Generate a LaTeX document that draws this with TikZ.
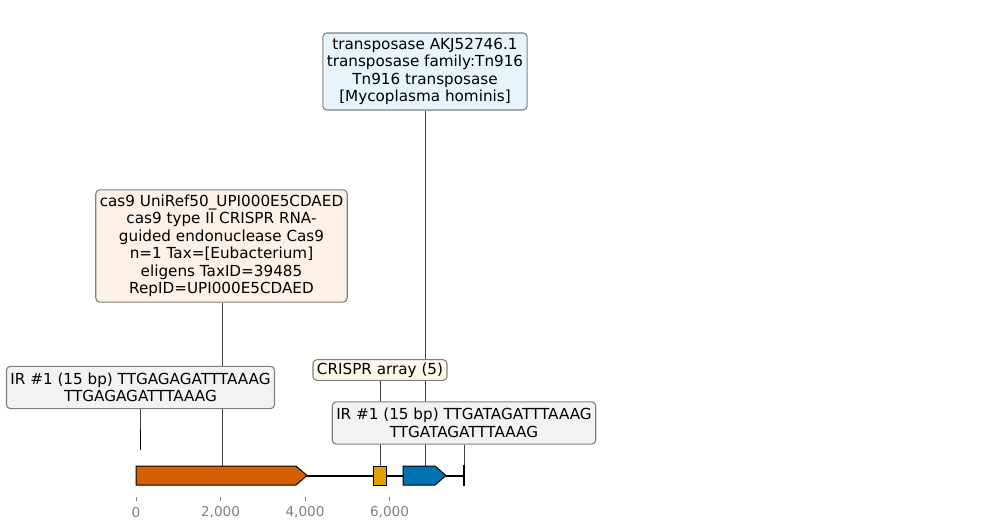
\documentclass[tikz,border=0pt]{standalone}
\usepackage{fontspec}
\setmainfont{DejaVu Sans}
\definecolor{cascol}{HTML}{D55E00}
\definecolor{crcol}{HTML}{E69F00}
\definecolor{trcol}{HTML}{0072B2}
\definecolor{casbox}{HTML}{FDF0E6}
\definecolor{trbox}{HTML}{E8F4FC}
\definecolor{crbox}{HTML}{FDF8E9}
\definecolor{irbox}{HTML}{F2F2F2}
\definecolor{boxedge}{HTML}{808080}
\definecolor{conn}{HTML}{404040}
\definecolor{tickgray}{HTML}{808080}
\pgfdeclarelayer{background}
\pgfsetlayers{background,main}
\tikzset{
  lbl/.style={draw=boxedge, line width=1.1pt, rounded corners=4pt, align=center,
    inner xsep=4pt, inner ysep=5pt, font=\fontsize{15.2}{17.5}\selectfont},
  connline/.style={draw=conn, line width=0.8pt},
  featshape/.style={draw=black, line width=1pt},
  ticklbl/.style={text=tickgray, font=\fontsize{13.6}{15}\selectfont},
  tickmark/.style={draw=tickgray, line width=0.8pt}
}
\begin{document}
\begin{tikzpicture}[x=1pt,y=-1pt]
\useasboundingbox (0,0) rectangle (989,530);
% backbone
\draw[line width=2pt] (136,475.5) -- (464,475.5);
\draw[line width=1.6pt] (464,465) -- (464,486);
% features
\draw[featshape, fill=cascol] (136,466) -- (296,466) -- (307,475.5) -- (296,485) -- (136,485) -- cycle;
\draw[featshape, fill=crcol] (373,466) rectangle (386,485);
\draw[featshape, fill=trcol] (403,466) -- (435,466) -- (446,475.5) -- (435,485) -- (403,485) -- cycle;
\draw[line width=1.8pt] (140.5,430) -- (140.5,450);
% feature anchor coordinates
\coordinate (irLtop) at (140.5,430);
\coordinate (castop) at (222,466);
\coordinate (crtop) at (380,466);
\coordinate (trtop) at (425,466);
\coordinate (irRtop) at (464,465);
% labels
\node[lbl, fill=trbox] (trl) at (425,71.5) {transposase AKJ52746.1\\transposase family:Tn916\\Tn916 transposase\\{[}Mycoplasma hominis{]}};
\node[lbl, fill=casbox] (casl) at (221.5,246) {cas9 UniRef50\_UPI000E5CDAED\\cas9 type II CRISPR RNA-\\guided endonuclease Cas9\\n=1 Tax={[}Eubacterium{]}\\eligens TaxID=39485\\RepID=UPI000E5CDAED};
\node[lbl, fill=irbox, inner ysep=6.5pt] (irLl) at (140.5,387.5) {IR \#1 (15 bp) TTGAGAGATTTAAAG\\TTGAGAGATTTAAAG};
\node[lbl, fill=crbox, inner ysep=3pt] (crl) at (380,370) {CRISPR array (5)};
\node[lbl, fill=irbox, inner ysep=6.5pt] (irRl) at (464,423) {IR \#1 (15 bp) TTGATAGATTTAAAG\\TTGATAGATTTAAAG};
% connectors
\begin{pgfonlayer}{background}
\draw[connline] (trl.south -| trtop) -- (trtop);
\draw[connline] (casl.south -| castop) -- (castop);
\draw[connline] (irLl.south -| irLtop) -- (irLtop);
\draw[connline] (crl.south -| crtop) -- (crtop);
\draw[connline] (irRl.south -| irRtop) -- (irRtop);
\end{pgfonlayer}
% axis
\foreach \x/\t in {136/0,220.5/{2,000},305/{4,000},389.5/{6,000}} {
  \draw[tickmark] (\x,496.5) -- (\x,500.5);
  \node[ticklbl] at (\x,512.5) {\t};
}
\end{tikzpicture}
\end{document}
